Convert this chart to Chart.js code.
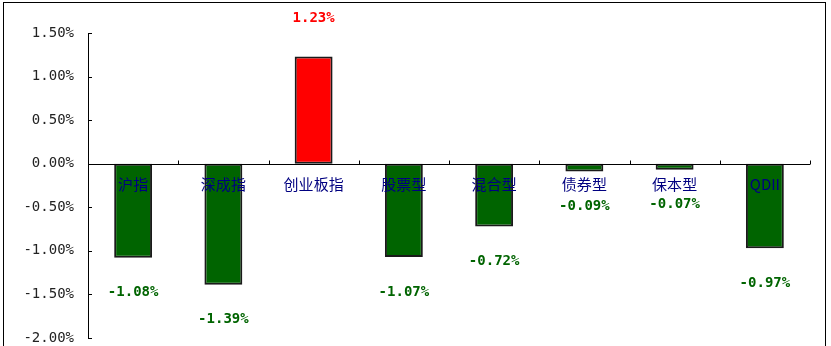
<!DOCTYPE html>
<html><head><meta charset="utf-8">
<script src="https://cdn.jsdelivr.net/npm/chart.js@4/dist/chart.umd.min.js"></script>
<style>html,body{margin:0;padding:0;background:#fff;}canvas{display:block;}</style>
</head><body>
<canvas id="c" width="831" height="346"></canvas>
<script>
const categories = ['沪指','深成指','创业板指','股票型','混合型','债券型','保本型','QDII'];
const changes = [-1.08, -1.39, 1.23, -1.07, -0.72, -0.09, -0.07, -0.97];
const yTicks = [1.5, 1.0, 0.5, 0.0, -0.5, -1.0, -1.5, -2.0];

const posColor = '#ff0000', negColor = '#006400';
const fmt = v => v.toFixed(2) + '%';

const overlay = {
  id: 'overlay',
  beforeDraw(chart) {
    const ctx = chart.ctx;
    ctx.save();
    ctx.fillStyle = '#fff';
    ctx.fillRect(0, 0, chart.width, chart.height);
    ctx.strokeStyle = '#000';
    ctx.lineWidth = 1;
    ctx.strokeRect(3.5, 2.5, chart.width - 9, chart.height + 10);
    ctx.restore();
  },
  afterDatasetsDraw(chart) {
    const ctx = chart.ctx, x = chart.scales.x, y = chart.scales.y, a = chart.chartArea;
    const y0 = Math.round(y.getPixelForValue(0)) + 0.5;
    ctx.save();
    ctx.strokeStyle = '#000';
    ctx.lineWidth = 1;
    ctx.beginPath();
    ctx.moveTo(a.left, y0); ctx.lineTo(a.right, y0);
    const w = (a.right - a.left) / categories.length;
    for (let i = 1; i <= categories.length; i++) {
      const px = Math.round(a.left + i * w) + 0.5;
      ctx.moveTo(px, y0); ctx.lineTo(px, y0 - 4);
    }
    yTicks.forEach(v => {
      const py = Math.round(y.getPixelForValue(v)) + 0.5;
      ctx.moveTo(a.left, py); ctx.lineTo(a.left + 4, py);
    });
    ctx.stroke();
    ctx.font = '15px "Noto Sans CJK SC", sans-serif';
    ctx.fillStyle = '#000080';
    ctx.textAlign = 'center';
    ctx.textBaseline = 'middle';
    categories.forEach((c, i) => {
      ctx.fillText(c, x.getPixelForValue(i), y0 + 20);
    });
    ctx.font = 'bold 14px "DejaVu Sans Mono", monospace';
    const meta = chart.getDatasetMeta(0);
    meta.data.forEach((bar, i) => {
      const v = changes[i];
      ctx.fillStyle = v >= 0 ? posColor : negColor;
      const py = v >= 0 ? bar.y - 38 : bar.y + 35;
      ctx.fillText(fmt(v), bar.x, py);
    });
    ctx.restore();
  }
};

new Chart(document.getElementById('c'), {
  type: 'bar',
  data: {
    labels: categories,
    datasets: [{
      data: changes,
      backgroundColor: changes.map(v => v >= 0 ? posColor : negColor),
      borderColor: '#1a1a1a',
      borderWidth: 2,
      borderSkipped: false,
      barPercentage: 0.42,
      categoryPercentage: 1
    }]
  },
  options: {
    responsive: false,
    animation: false,
    layout: { padding: { top: 33, bottom: 8, left: 0, right: 21 } },
    plugins: { legend: { display: false }, tooltip: { enabled: false } },
    scales: {
      x: { display: false, offset: true },
      y: {
        min: -2, max: 1.5,
        afterFit(s) { s.width = 88; s.paddingTop = 0; s.paddingBottom = 0; },
        grid: { display: false },
        border: { display: true, color: '#000', width: 1 },
        ticks: {
          stepSize: 0.5,
          padding: 6,
          color: '#222',
          font: { family: '"DejaVu Sans Mono", monospace', size: 14 },
          callback: v => fmt(v)
        }
      }
    }
  },
  plugins: [overlay]
});
</script>
</body></html>
